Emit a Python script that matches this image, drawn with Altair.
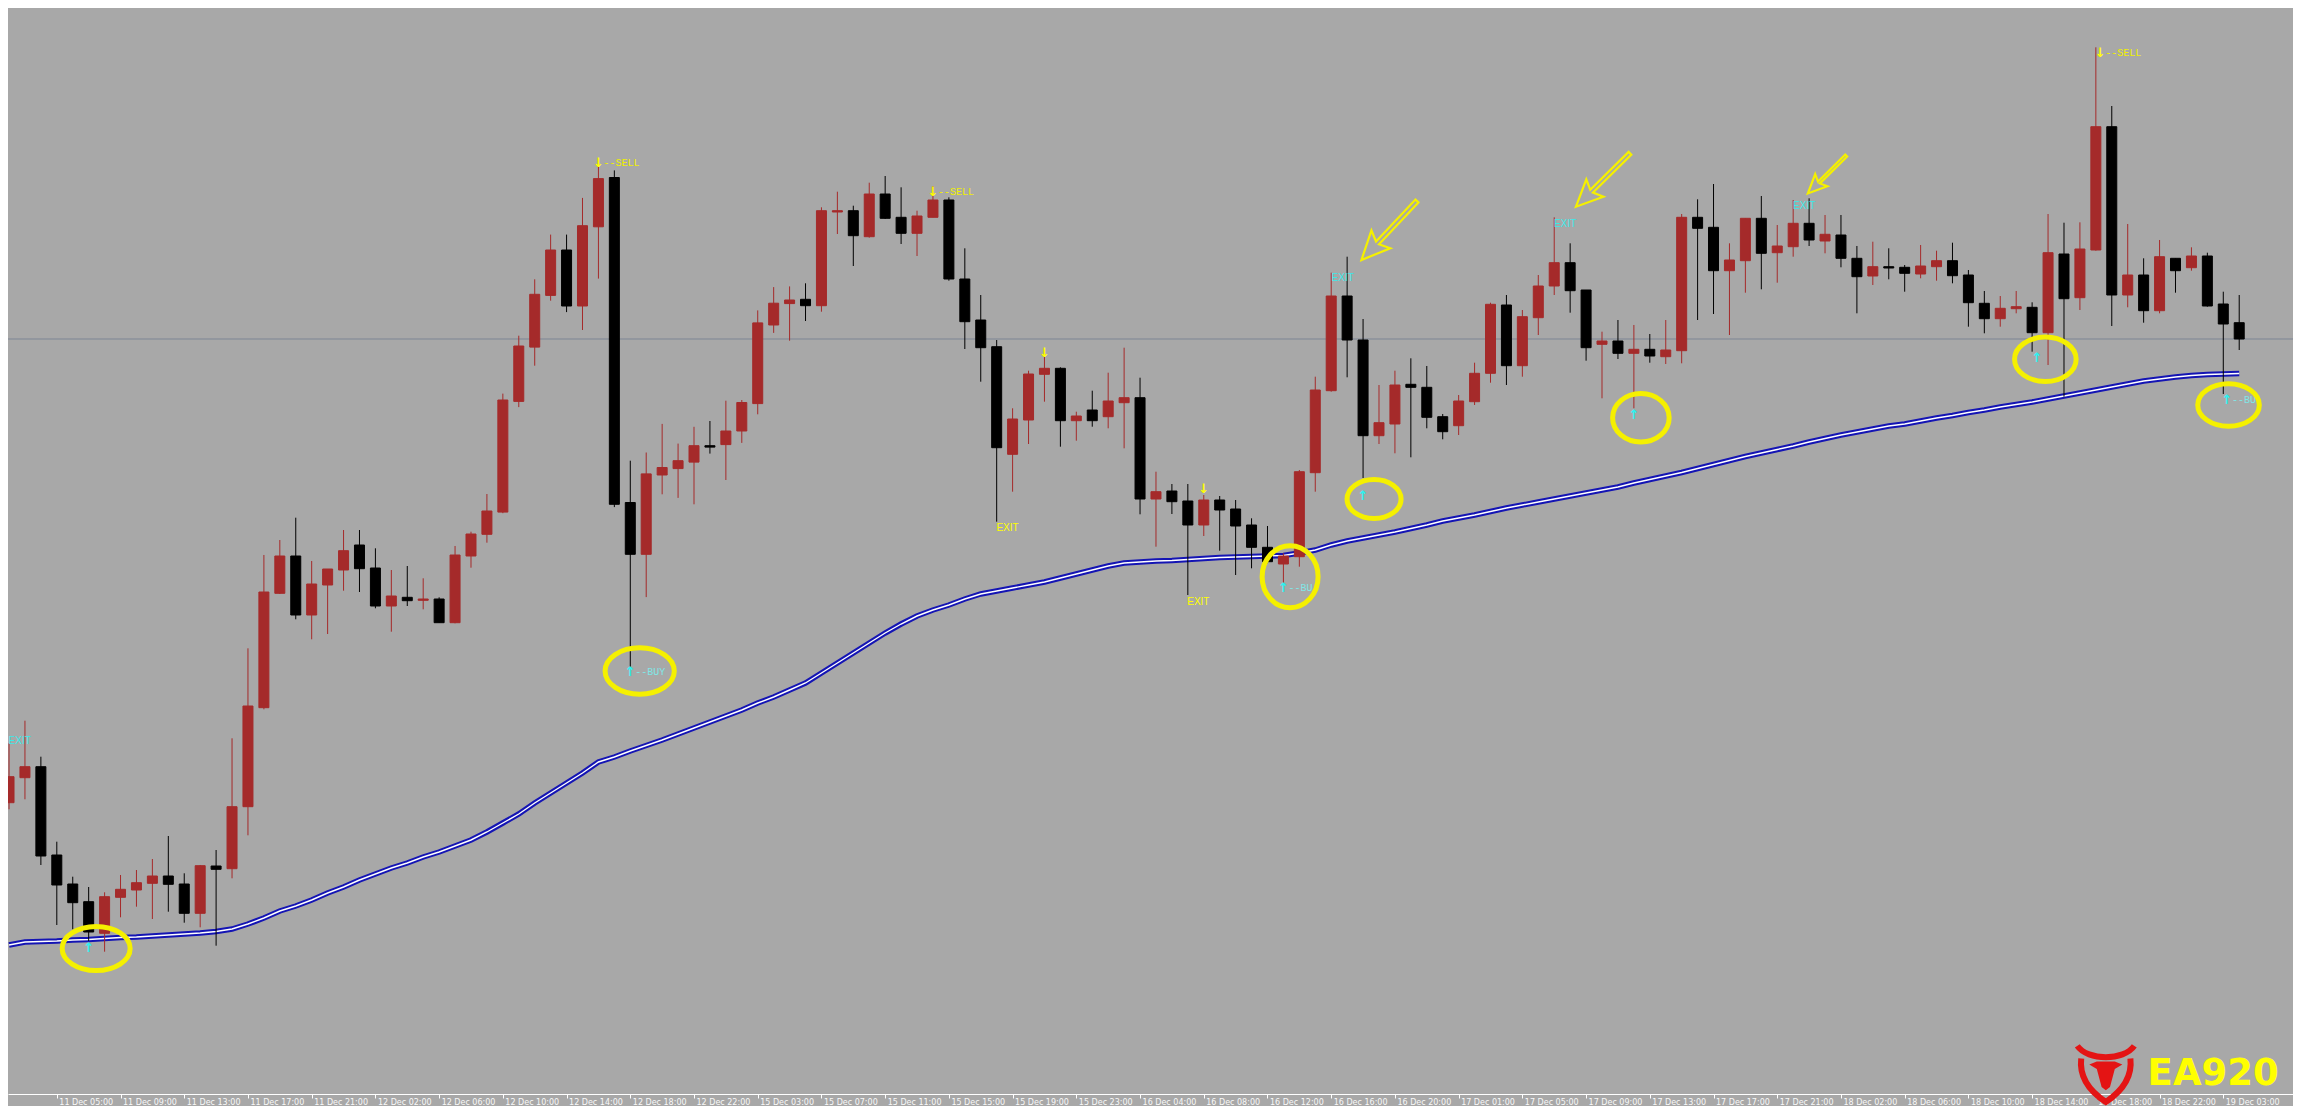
import altair as alt
import pandas as pd

# ---------------- data ----------------
candle_index = list(range(141))

open_ = [1219.73, 1222.23, 1223.33, 1214.5, 1211.6, 1209.83, 1206.67, 1210.27, 1211.0, 1211.67,
         1212.4, 1211.6, 1208.67, 1213.4, 1213.13, 1219.33, 1229.23, 1240.67, 1244.4, 1238.5,
         1241.5, 1243.0, 1245.5, 1243.2, 1239.4, 1240.27, 1239.97, 1240.1, 1237.73, 1244.4,
         1246.57, 1248.79, 1259.86, 1265.29, 1270.46, 1275.0, 1269.4, 1277.32, 1282.25, 1249.75,
         1244.57, 1252.5, 1253.14, 1253.79, 1255.43, 1255.54, 1256.9, 1259.64, 1267.5, 1269.64,
         1270.07, 1269.43, 1278.8, 1278.93, 1276.33, 1280.6, 1278.27, 1276.67, 1278.27, 1280.0,
         1272.1, 1268.0, 1265.33, 1254.57, 1258.0, 1262.57, 1263.17, 1257.93, 1259.0, 1258.33,
         1259.73, 1260.23, 1250.1, 1250.9, 1249.9, 1247.5, 1250.0, 1249.1, 1247.5, 1245.27,
         1243.6, 1244.33, 1252.73, 1260.93, 1270.4, 1266.0, 1256.43, 1257.6, 1261.57, 1261.27,
         1258.33, 1257.43, 1259.83, 1262.67, 1269.5, 1263.43, 1268.23, 1271.4, 1273.73, 1271.0,
         1265.57, 1265.9, 1264.67, 1265.07, 1264.33, 1264.93, 1278.27, 1277.27, 1272.93, 1273.93,
         1278.17, 1274.73, 1275.33, 1277.67, 1275.9, 1276.5, 1274.17, 1272.4, 1273.33, 1273.27,
         1272.6, 1273.33, 1273.93, 1272.5, 1269.67, 1268.13, 1269.13, 1269.27, 1266.73, 1274.6,
         1270.23, 1275.0, 1287.33, 1270.5, 1272.5, 1268.93, 1274.17, 1273.23, 1274.4, 1269.6,
         1267.73]
high = [1225.67, 1227.93, 1224.33, 1215.83, 1212.33, 1211.3, 1210.77, 1212.5, 1213.0, 1214.1,
        1216.4, 1212.67, 1213.5, 1215.0, 1226.17, 1235.17, 1244.5, 1246.0, 1248.23, 1243.9,
        1243.1, 1247.0, 1247.0, 1245.17, 1243.0, 1243.4, 1242.17, 1240.27, 1245.4, 1246.83,
        1250.6, 1260.64, 1266.43, 1272.07, 1276.54, 1276.54, 1280.21, 1284.14, 1282.96, 1253.93,
        1254.75, 1257.61, 1255.64, 1257.32, 1257.9, 1259.93, 1260.0, 1268.96, 1271.29, 1271.36,
        1271.67, 1279.27, 1280.83, 1279.43, 1281.73, 1282.4, 1281.27, 1278.93, 1281.4, 1280.27,
        1275.17, 1270.5, 1266.0, 1259.17, 1262.93, 1265.07, 1263.27, 1258.83, 1260.93, 1262.73,
        1265.23, 1262.23, 1252.83, 1251.6, 1251.6, 1250.5, 1250.4, 1250.0, 1248.17, 1247.4,
        1244.67, 1253.0, 1262.33, 1272.73, 1274.33, 1268.1, 1261.5, 1262.93, 1264.17, 1263.4,
        1258.6, 1260.5, 1263.73, 1269.73, 1270.5, 1269.0, 1272.5, 1278.27, 1275.67, 1271.0,
        1266.83, 1268.0, 1267.5, 1266.6, 1268.0, 1278.6, 1280.07, 1281.6, 1275.67, 1278.17,
        1280.4, 1277.5, 1280.0, 1280.17, 1278.5, 1278.5, 1275.4, 1275.83, 1275.17, 1273.5,
        1275.5, 1274.93, 1275.73, 1273.0, 1270.9, 1270.4, 1270.9, 1269.77, 1278.6, 1277.73,
        1277.77, 1295.27, 1289.4, 1277.6, 1274.17, 1276.0, 1274.17, 1275.27, 1274.73, 1270.83,
        1270.5]
low = [1219.07, 1220.07, 1213.5, 1207.5, 1207.07, 1205.9, 1204.83, 1208.27, 1209.33, 1208.1,
       1208.83, 1207.73, 1207.27, 1205.43, 1212.17, 1216.47, 1229.07, 1240.6, 1238.07, 1236.07,
       1236.6, 1240.93, 1240.8, 1239.17, 1236.83, 1239.4, 1239.07, 1237.73, 1237.67, 1243.23,
       1245.73, 1248.68, 1259.29, 1263.43, 1269.93, 1268.79, 1267.0, 1272.14, 1249.29, 1233.32,
       1240.29, 1250.57, 1250.21, 1249.57, 1254.64, 1252.0, 1255.71, 1258.57, 1266.71, 1265.93,
       1267.9, 1268.83, 1276.6, 1273.4, 1276.23, 1278.1, 1275.6, 1274.4, 1278.27, 1271.93,
       1265.1, 1261.83, 1247.83, 1250.83, 1255.6, 1259.83, 1255.33, 1255.93, 1257.33, 1257.17,
       1255.17, 1248.57, 1245.33, 1248.6, 1240.5, 1246.4, 1244.93, 1242.5, 1243.17, 1243.67,
       1241.67, 1243.33, 1250.83, 1260.83, 1262.27, 1252.2, 1255.6, 1254.67, 1254.27, 1257.17,
       1256.07, 1256.5, 1259.5, 1261.73, 1261.5, 1262.33, 1266.5, 1270.5, 1268.73, 1263.93,
       1260.17, 1264.1, 1259.17, 1263.73, 1263.6, 1263.67, 1268.0, 1268.6, 1266.5, 1270.73,
       1271.07, 1271.73, 1274.33, 1275.4, 1274.67, 1273.27, 1268.67, 1271.5, 1272.07, 1270.83,
       1272.17, 1271.93, 1271.67, 1267.33, 1266.67, 1267.33, 1268.67, 1264.83, 1263.5, 1260.33,
       1269.0, 1274.93, 1267.4, 1269.27, 1267.73, 1268.67, 1270.73, 1272.93, 1269.33, 1260.6,
       1265.0]
close = [1222.33, 1223.33, 1214.4, 1211.5, 1209.73, 1206.8, 1210.33, 1211.07, 1211.73, 1212.4,
         1211.57, 1208.67, 1213.43, 1213.07, 1219.33, 1229.4, 1240.8, 1244.4, 1238.5, 1241.6,
         1243.1, 1244.93, 1243.13, 1239.4, 1240.4, 1239.93, 1240.1, 1237.73, 1244.5, 1246.6,
         1248.9, 1260.0, 1265.4, 1270.57, 1275.0, 1269.4, 1277.43, 1282.14, 1249.57, 1244.57,
         1252.61, 1253.25, 1253.93, 1255.43, 1255.29, 1256.9, 1259.75, 1267.71, 1269.68, 1270.0,
         1269.43, 1278.93, 1278.93, 1276.43, 1280.6, 1278.17, 1276.67, 1278.4, 1280.0, 1272.1,
         1267.83, 1265.23, 1255.23, 1258.1, 1262.6, 1263.17, 1257.93, 1258.4, 1257.93, 1259.9,
         1260.23, 1250.1, 1250.83, 1249.83, 1247.5, 1250.0, 1249.0, 1247.4, 1245.27, 1243.83,
         1244.4, 1252.83, 1261.0, 1270.4, 1266.0, 1256.43, 1257.73, 1261.5, 1261.27, 1258.27,
         1256.83, 1259.9, 1262.67, 1269.57, 1263.43, 1268.33, 1271.4, 1273.73, 1270.93, 1265.23,
         1265.9, 1264.67, 1265.07, 1264.4, 1265.0, 1278.27, 1277.17, 1272.93, 1274.0, 1278.17,
         1274.67, 1275.4, 1277.67, 1276.0, 1276.57, 1274.17, 1272.33, 1273.33, 1273.2, 1272.67,
         1273.4, 1273.93, 1272.43, 1269.73, 1268.13, 1269.17, 1269.33, 1266.73, 1274.73, 1270.13,
         1275.1, 1287.33, 1270.5, 1272.5, 1268.93, 1274.33, 1272.93, 1274.4, 1269.4, 1267.6,
         1266.1]
moving_avg = [1205.5, 1205.8, 1205.85, 1205.9, 1206.0, 1206.05, 1206.15, 1206.25, 1206.3, 1206.4,
              1206.5, 1206.6, 1206.7, 1206.85, 1207.1, 1207.6, 1208.2, 1208.9, 1209.4, 1210.0,
              1210.7, 1211.3, 1212.0, 1212.6, 1213.2, 1213.7, 1214.3, 1214.8, 1215.4, 1216.0,
              1216.8, 1217.7, 1218.6, 1219.7, 1220.7, 1221.7, 1222.7, 1223.8, 1224.3, 1224.9,
              1225.45, 1226.0, 1226.6, 1227.2, 1227.8, 1228.4, 1229.0, 1229.7, 1230.3, 1231.0,
              1231.7, 1232.7, 1233.7, 1234.7, 1235.7, 1236.7, 1237.6, 1238.4, 1239.0, 1239.5,
              1240.1, 1240.6, 1240.9, 1241.2, 1241.5, 1241.8, 1242.2, 1242.6, 1243.0, 1243.4,
              1243.7, 1243.8, 1243.9, 1243.95, 1244.05, 1244.15, 1244.25, 1244.3, 1244.35, 1244.4,
              1244.45, 1244.7, 1245.0, 1245.5, 1245.9, 1246.2, 1246.5, 1246.8, 1247.15, 1247.5,
              1247.9, 1248.2, 1248.5, 1248.85, 1249.2, 1249.5, 1249.8, 1250.1, 1250.4, 1250.7,
              1251.0, 1251.3, 1251.7, 1252.05, 1252.4, 1252.75, 1253.15, 1253.55, 1253.95, 1254.35,
              1254.7, 1255.05, 1255.4, 1255.8, 1256.15, 1256.5, 1256.8, 1257.1, 1257.4, 1257.6,
              1257.9, 1258.2, 1258.45, 1258.75, 1259.0, 1259.3, 1259.55, 1259.8, 1260.1, 1260.4,
              1260.7, 1261.0, 1261.3, 1261.6, 1261.9, 1262.1, 1262.3, 1262.45, 1262.55, 1262.6,
              1262.65]

tick_labels = ["11 Dec 01:00", "11 Dec 05:00", "11 Dec 09:00", "11 Dec 13:00", "11 Dec 17:00",
               "11 Dec 21:00", "12 Dec 02:00", "12 Dec 06:00", "12 Dec 10:00", "12 Dec 14:00",
               "12 Dec 18:00", "12 Dec 22:00", "15 Dec 03:00", "15 Dec 07:00", "15 Dec 11:00",
               "15 Dec 15:00", "15 Dec 19:00", "15 Dec 23:00", "16 Dec 04:00", "16 Dec 08:00",
               "16 Dec 12:00", "16 Dec 16:00", "16 Dec 20:00", "17 Dec 01:00", "17 Dec 05:00",
               "17 Dec 09:00", "17 Dec 13:00", "17 Dec 17:00", "17 Dec 21:00", "18 Dec 02:00",
               "18 Dec 06:00", "18 Dec 10:00", "18 Dec 14:00", "18 Dec 18:00", "18 Dec 22:00",
               "19 Dec 03:00"]
tick_index = [-1 + 4 * k for k in range(len(tick_labels))]

level_price = [1266.1]

sell_arrow_i = [37, 58, 65, 75, 131.27]
sell_arrow_p = [1283.7, 1280.83, 1264.67, 1251.07, 1294.73]
sell_text_i = [37, 58, 131.27]
sell_text_p = [1283.7, 1280.83, 1294.73]

buy_arrow_i = [5, 39, 80, 85, 102, 127.3, 139.23]
buy_arrow_p = [1205.17, 1232.8, 1241.17, 1250.4, 1258.5, 1264.17, 1260.0]
buy_text_i = [39, 80, 139.23]
buy_text_p = [1232.8, 1241.17, 1260.0]
buy_text = ["--BUY", "--BU", "--BU"]

exit_cyan_i = [0.67, 83.72, 97.69, 112.69]
exit_cyan_p = [1225.9, 1272.2, 1277.57, 1279.4]
exit_yellow_i = [62.68, 74.66]
exit_yellow_p = [1247.17, 1239.83]

# ---------------- annotation geometry ----------------
ring_i = [5.47, 39.59, 80.42, 85.69, 102.44, 127.83, 139.33]
ring_p = [1205.15, 1232.9, 1242.33, 1250.1, 1258.23, 1264.07, 1259.5]
ring_rx = [34, 34.6, 28, 27, 28.3, 30.8, 30.8]
ring_ry = [22, 23.2, 31, 19.5, 24.2, 22.2, 21.3]

callout_i = [86.64, 100.06, 114.125]
callout_p = [1276.95, 1282.0, 1282.55]
callout_len = [81, 76, 54]
callout_angle = [133.25, 135.3, 135.3]

logo_i = [134.25]
logo_p = [1191.5]
shield_i = [131.625]
shield_p = [1192.65]


def ellipse_path(r):
    k = 0.5523
    return (f"M -1 0 C -1 {-k*r:.4f} {-k:.4f} {-r:.4f} 0 {-r:.4f} "
            f"C {k:.4f} {-r:.4f} 1 {-k*r:.4f} 1 0 "
            f"C 1 {k*r:.4f} {k:.4f} {r:.4f} 0 {r:.4f} "
            f"C {-k:.4f} {r:.4f} -1 {k*r:.4f} -1 0 Z")


ARROW_PATH = "M -1 -0.05 L 0.42 -0.05 L 0.3 -0.32 L 1 0 L 0.3 0.32 L 0.42 0.05 L -1 0.05 Z"
SHIELD_PATH = ("M -0.95 -0.92 C -0.6 -0.42 0.6 -0.42 0.95 -0.92 "
               "M -0.82 -0.5 C -0.9 0.2 -0.45 0.65 0 0.95 C 0.45 0.65 0.9 0.2 0.82 -0.5")
HEAD_PATH = ("M -0.55 -0.3 L -0.3 -0.4 L 0.3 -0.4 L 0.55 -0.3 L 0.3 -0.15 "
             "L 0.14 0.45 L 0 0.56 L -0.14 0.45 L -0.3 -0.15 Z")

# ---------------- tables ----------------
candles = pd.DataFrame({"i": candle_index, "open": open_, "high": high,
                        "low": low, "close": close})
candles["dir"] = ["up" if c > o else "down" for o, c in zip(open_, close)]
ma_df = pd.DataFrame({"i": candle_index, "p": moving_avg})
level_df = pd.DataFrame({"p": level_price})
sell_arrow_df = pd.DataFrame({"i": sell_arrow_i, "p": sell_arrow_p, "t": ["\u2193"] * len(sell_arrow_i)})
sell_text_df = pd.DataFrame({"i": sell_text_i, "p": sell_text_p, "t": ["--SELL"] * len(sell_text_i)})
buy_arrow_df = pd.DataFrame({"i": buy_arrow_i, "p": buy_arrow_p, "t": ["\u2191"] * len(buy_arrow_i)})
buy_text_df = pd.DataFrame({"i": buy_text_i, "p": buy_text_p, "t": buy_text})
exit_c_df = pd.DataFrame({"i": exit_cyan_i, "p": exit_cyan_p, "t": ["EXIT"] * len(exit_cyan_i)})
exit_y_df = pd.DataFrame({"i": exit_yellow_i, "p": exit_yellow_p, "t": ["EXIT"] * len(exit_yellow_i)})
ring_df = pd.DataFrame({"i": ring_i, "p": ring_p,
                        "shape": [ellipse_path(ry / rx) for rx, ry in zip(ring_rx, ring_ry)],
                        "size": [(2 * rx) ** 2 for rx in ring_rx]})
callout_df = pd.DataFrame({"i": callout_i, "p": callout_p,
                           "size": [L ** 2 for L in callout_len], "angle": callout_angle})
logo_df = pd.DataFrame({"i": logo_i, "p": logo_p, "t": ["EA920"]})
shield_df = pd.DataFrame({"i": shield_i, "p": shield_p})

# ---------------- scales / axis ----------------
W, H = 2285, 1086
xs = alt.Scale(domain=[0.25, 0.25 + W / 16], nice=False, zero=False)
ys = alt.Scale(domain=[1190.6, 1299.2], nice=False, zero=False)
label_expr = "[" + ",".join(f"'{s}'" for s in tick_labels) + "][(datum.value + 1) / 4]"
xaxis = alt.Axis(values=tick_index, labelExpr=label_expr, title=None, grid=False,
                 domainColor="#FFFFFF", domainWidth=1, tickColor="#FFFFFF", tickSize=4,
                 labelColor="#F8F8F8", labelFont="DejaVu Sans", labelFontSize=8,
                 labelAlign="left", labelBaseline="middle", labelPadding=4, labelOffset=2,
                 labelFlush=False, labelOverlap=False)
X = alt.X("i:Q", scale=xs, axis=xaxis)


def Y(field):
    return alt.Y(f"{field}:Q", scale=ys, axis=None)


cscale = alt.Scale(domain=["up", "down"], range=["#A52A2A", "#000000"])

level = alt.Chart(level_df).mark_rule(color="#7C8594", strokeWidth=1).encode(
    y=Y("p"), x=alt.value(0), x2=alt.value(W))
ma_outer = alt.Chart(ma_df).mark_line(color="#1414B4", strokeWidth=5.5).encode(x=X, y=Y("p"))
ma_inner = alt.Chart(ma_df).mark_line(color="#FFFFFF", strokeWidth=1.4).encode(x=X, y=Y("p"))
wicks = alt.Chart(candles).mark_rule(strokeWidth=1).encode(
    x=X, y=Y("low"), y2="high", color=alt.Color("dir:N", scale=cscale, legend=None))
bodies = alt.Chart(candles).mark_bar(size=10, strokeWidth=1).encode(
    x=X, y=Y("open"), y2="close",
    color=alt.Color("dir:N", scale=cscale, legend=None),
    stroke=alt.Stroke("dir:N", scale=cscale, legend=None))

sell_arrows = alt.Chart(sell_arrow_df).mark_text(
    font="DejaVu Sans", fontWeight="bold", fontSize=13, color="#FFFF00",
    align="center", baseline="middle").encode(x=X, y=Y("p"), text="t:N")
sell_texts = alt.Chart(sell_text_df).mark_text(
    font="Liberation Mono", fontSize=10, color="#F0F000", align="left",
    baseline="middle", dx=5).encode(x=X, y=Y("p"), text="t:N")
buy_arrows = alt.Chart(buy_arrow_df).mark_text(
    font="DejaVu Sans", fontWeight="bold", fontSize=13, color="#30F0F0",
    align="center", baseline="middle").encode(x=X, y=Y("p"), text="t:N")
buy_texts = alt.Chart(buy_text_df).mark_text(
    font="Liberation Mono", fontSize=10, color="#80E6E6", align="left",
    baseline="middle", dx=5).encode(x=X, y=Y("p"), text="t:N")
exit_c = alt.Chart(exit_c_df).mark_text(
    font="Liberation Sans", fontSize=10, color="#40E8E8", align="center",
    baseline="middle").encode(x=X, y=Y("p"), text="t:N")
exit_y = alt.Chart(exit_y_df).mark_text(
    font="Liberation Sans", fontSize=10, color="#FFFF00", align="center",
    baseline="middle").encode(x=X, y=Y("p"), text="t:N")

callouts = alt.Chart(callout_df).mark_point(
    shape=ARROW_PATH, filled=False, stroke="#F5F000", strokeWidth=2.2, opacity=1).encode(
    x=X, y=Y("p"), size=alt.Size("size:Q", scale=None, legend=None),
    angle=alt.Angle("angle:Q", scale=None))
rings = alt.Chart(ring_df).mark_point(
    filled=False, stroke="#F5F000", strokeWidth=5, opacity=1).encode(
    x=X, y=Y("p"), shape=alt.Shape("shape:N", scale=None, legend=None),
    size=alt.Size("size:Q", scale=None, legend=None))

logo_text = alt.Chart(logo_df).mark_text(
    font="DejaVu Sans", fontWeight="bold", fontSize=37, color="#FFFF00",
    align="left", baseline="alphabetic").encode(x=X, y=Y("p"), text="t:N")
shield = alt.Chart(shield_df).mark_point(
    shape=SHIELD_PATH, filled=False, stroke="#E41414", strokeWidth=6, size=3600,
    opacity=1).encode(x=X, y=Y("p"))
head = alt.Chart(shield_df).mark_point(
    shape=HEAD_PATH, filled=True, fill="#E41414", strokeWidth=0, size=3600,
    opacity=1).encode(x=X, y=Y("p"))

chart = alt.layer(
    level, ma_outer, ma_inner, wicks, bodies,
    sell_arrows, sell_texts, buy_arrows, buy_texts, exit_c, exit_y,
    callouts, rings, logo_text, shield, head
).properties(
    width=W, height=H, background="#A8A8A8",
    padding={"left": 0, "top": 0, "right": 0, "bottom": 12},
    autosize=alt.AutoSizeParams(type="none"),
).configure_view(stroke=None)

chart.save("out.html", embed_options={"renderer": "svg", "actions": False})
